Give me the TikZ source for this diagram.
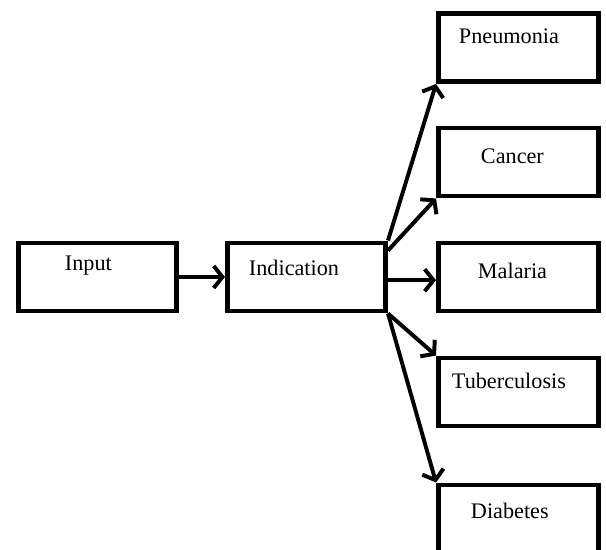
\documentclass[tikz,border=0pt]{standalone}
\usepackage{fontspec}
\setmainfont{Liberation Serif}
\usepackage{tikz}
\tikzstyle{box}=[rectangle,draw=black,line width=3.5pt,inner sep=0pt,minimum width=3.95cm,minimum height=1.7cm]
\tikzstyle{rbox}=[box,minimum width=4.0cm]
\tikzstyle{lbl}=[anchor=base west,inner sep=0pt,font=\fontsize{15.8}{19}\selectfont]
\usetikzlibrary{arrows.meta,positioning}

\begin{document}
\begin{tikzpicture}[x=0.025cm,y=-0.025cm,>={Straight Barb[length=2.2mm,width=5.5mm]},line width=2.8pt]
		\useasboundingbox (0,0) rectangle (606,549);
  		\node[box] (input) at (97.5,277) {};
  		\node[box] (ind) at (306.5,277) {};
  		\node[rbox] (pneu) at (518.5,47.5) {};
  		\node[rbox] (canc) at (518.5,162) {};
  		\node[rbox] (mal) at (518.5,277) {};
  		\node[rbox] (tub) at (518.5,392) {};
  		\node[rbox] (diab) at (518.5,519) {};

  		\node[lbl] (tinput) at (63,270) {Input};
  		\node[lbl] (tind) at (247,275) {Indication};
  		\node[lbl] (tpneu) at (457,43) {Pneumonia};
  		\node[lbl] (tcanc) at (479,163) {Cancer};
  		\node[lbl] (tmal) at (476,278) {Malaria};
  		\node[lbl] (ttub) at (450,388) {Tuberculosis};
  		\node[lbl] (tdiab) at (469,518) {Diabetes};

  		\path[->] (input) edge node {} (ind);
  		\path[->] (ind.north east) edge node {} (pneu.south west);
  		\path[->] ([yshift=-0.25cm]ind.north east) edge node {} (canc.south west);
  		\path[->] ([yshift=-0.08cm]ind.east) edge node {} ([yshift=-0.08cm]mal.west);
  		\path[->] (ind.south east) edge node {} (tub.north west);
  		\path[->] (ind.south east) edge node {} (diab.north west);

	\end{tikzpicture}
\end{document}
